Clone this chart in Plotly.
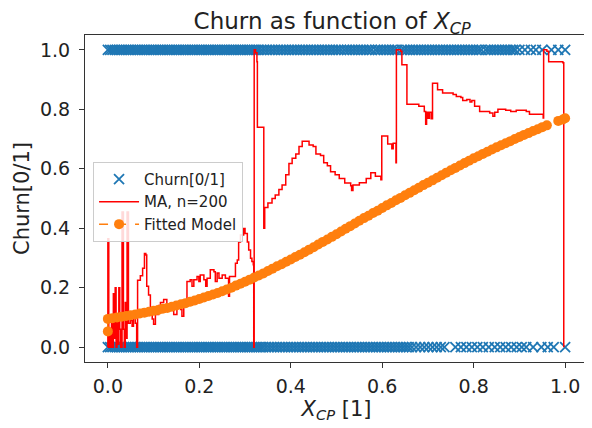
import plotly.graph_objects as go

# --- Data ---
churn_x_at_1 = [0.000,0.005,0.010,0.015,0.020,0.025,0.030,0.035,0.040,0.045,0.050,0.055,0.060,0.065,0.070,0.075,0.080,0.085,0.090,0.095,
                0.100,0.105,0.110,0.115,0.120,0.125,0.130,0.135,0.140,0.145,0.150,0.155,0.160,0.165,0.170,0.175,0.180,0.185,0.190,0.195,
                0.200,0.205,0.210,0.215,0.220,0.225,0.230,0.235,0.240,0.245,0.250,0.255,0.260,0.265,0.270,0.275,0.280,0.285,0.290,0.295,
                0.300,0.305,0.310,0.315,0.320,0.325,0.330,
                0.336,0.342,0.348,0.354,0.360,0.366,0.372,0.378,0.384,0.390,0.396,0.402,0.408,0.414,0.420,0.426,0.432,0.438,0.444,0.450,
                0.456,0.462,0.468,0.474,0.480,0.486,0.492,0.498,0.504,0.510,0.517,0.523,0.529,0.535,0.541,0.547,0.553,0.559,0.565,0.571,
                0.577,0.585,0.591,0.597,0.603,0.609,0.615,0.621,0.627,0.633,0.643,0.649,0.655,0.661,0.667,0.673,0.679,0.685,0.691,0.697,
                0.703,0.709,0.715,0.721,0.727,0.733,0.739,0.745,0.751,0.757,0.763,0.769,0.775,0.781,0.787,0.793,0.799,0.805,0.811,0.817,
                0.826,0.832,0.838,0.844,0.850,0.856,0.862,0.868,0.874,0.880,0.886,0.891,
                0.900,0.912,0.925,0.936,0.950,0.970,0.985,1.000]

churn_x_at_0 = [0.000,0.005,0.010,0.015,0.020,0.025,0.030,0.035,0.040,0.045,0.050,0.055,0.060,0.065,0.070,0.075,0.080,0.085,0.090,0.095,
                0.100,0.105,0.110,0.115,0.120,0.125,0.130,0.135,0.140,0.145,0.150,0.155,0.160,0.165,0.170,0.175,0.180,0.185,0.190,0.195,
                0.200,0.205,0.210,0.215,0.220,0.225,0.230,0.235,0.240,0.245,0.250,0.255,0.260,0.265,0.270,0.275,0.280,0.285,0.290,0.295,
                0.300,0.305,0.310,0.315,0.320,0.325,0.330,0.335,0.340,
                0.346,0.352,0.358,0.364,0.370,0.376,0.382,0.388,0.394,0.400,0.406,0.412,0.418,0.424,0.430,0.436,0.442,0.448,0.454,0.460,
                0.466,0.472,0.478,0.484,0.490,0.496,0.502,0.508,0.514,0.520,0.526,0.532,0.538,0.544,0.550,0.556,0.562,0.568,0.574,0.580,
                0.586,0.592,0.598,0.604,0.610,0.616,0.622,0.628,0.634,0.640,0.646,0.652,0.658,
                0.665,0.674,0.683,0.692,0.701,0.710,0.719,0.728,0.736,
                0.760,0.772,0.784,0.796,0.808,0.820,0.833,0.846,0.858,0.870,0.882,0.894,0.905,
                0.915,0.930,0.948,0.962,0.975,1.000]

ma_x = [0.000,0.000,0.002,0.004,0.006,0.008,0.010,0.012,0.014,0.016,0.018,0.020,0.022,0.024,0.026,0.028,0.031,0.034,0.036,0.038,
        0.040,0.042,0.045,0.049,0.053,0.056,0.060,0.063,0.065,0.071,0.076,0.080,0.083,0.085,0.089,0.093,0.097,0.100,0.104,0.107,
        0.111,0.115,0.122,0.129,0.137,0.144,0.151,0.159,0.162,0.166,0.173,0.180,0.184,0.188,0.195,0.199,0.202,0.210,0.214,0.217,
        0.224,0.232,0.235,0.239,0.243,0.250,0.257,0.264,0.266,0.275,0.279,0.283,0.286,0.290,0.297,0.300,0.305,0.308,0.312,0.315,
        0.318,0.319,0.320,0.323,0.326,0.327,0.340,0.341,0.343,0.350,0.359,0.366,0.374,0.381,0.389,0.396,0.403,0.411,0.418,0.425,
        0.433,0.440,0.449,0.455,0.465,0.472,0.480,0.487,0.497,0.506,0.518,0.531,0.533,0.536,0.550,0.565,0.575,0.585,0.597,0.599,
        0.608,0.612,0.619,0.621,0.624,0.629,0.630,0.631,0.640,0.643,0.652,0.654,0.674,0.680,0.692,0.695,0.697,0.700,0.703,0.707,
        0.710,0.718,0.721,0.729,0.732,0.755,0.762,0.772,0.776,0.785,0.792,0.796,0.802,0.813,0.835,0.842,0.846,0.853,0.870,0.881,
        0.890,0.893,0.915,0.922,0.952,0.953,0.960,0.964,0.995,0.997]
ma_y = [0.000,0.365,0.000,0.060,0.000,0.090,0.000,0.180,0.030,0.200,0.000,0.100,0.010,0.200,0.060,0.000,0.455,0.060,0.000,0.150,
        0.030,0.455,0.080,0.090,0.070,0.110,0.080,0.000,0.225,0.240,0.265,0.315,0.310,0.205,0.175,0.116,0.095,0.077,0.110,0.110,
        0.140,0.150,0.160,0.140,0.127,0.110,0.138,0.127,0.104,0.138,0.221,0.227,0.205,0.227,0.238,0.221,0.243,0.227,0.205,0.232,
        0.260,0.254,0.221,0.249,0.232,0.243,0.232,0.171,0.238,0.238,0.282,0.293,0.354,0.377,0.399,0.382,0.354,0.327,0.299,0.288,
        0.277,0.000,1.000,0.990,0.960,0.740,0.740,0.400,0.470,0.485,0.500,0.512,0.530,0.545,0.580,0.618,0.635,0.650,0.675,0.693,
        0.693,0.680,0.675,0.650,0.645,0.620,0.610,0.590,0.580,0.567,0.552,0.543,0.527,0.545,0.553,0.567,0.587,0.575,0.563,0.710,
        0.710,0.683,0.683,0.667,0.686,0.686,0.620,1.000,0.995,0.950,0.950,0.817,0.817,0.810,0.793,0.750,0.790,0.770,0.790,0.768,
        0.888,0.888,0.866,0.866,0.855,0.850,0.843,0.840,0.830,0.833,0.825,0.830,0.810,0.793,0.788,0.777,0.790,0.800,0.797,0.793,
        0.793,0.797,0.793,0.783,0.771,1.000,0.995,0.960,0.957,0.000]

fit_x = [0.00,0.00,0.01,0.02,0.03,0.04,0.05,0.06,0.07,0.08,0.09,0.10,0.11,0.12,0.13,0.14,0.15,0.16,0.17,0.18,0.19,
         0.20,0.21,0.22,0.23,0.24,0.25,0.26,0.27,0.28,0.29,0.30,0.31,0.32,0.33,0.34,0.35,0.36,0.37,0.38,0.39,
         0.40,0.41,0.42,0.43,0.44,0.45,0.46,0.47,0.48,0.49,0.50,0.51,0.52,0.53,0.54,0.55,0.56,0.57,0.58,0.59,
         0.60,0.61,0.62,0.63,0.64,0.65,0.66,0.67,0.68,0.69,0.70,0.71,0.72,0.73,0.74,0.75,0.76,0.77,0.78,0.79,
         0.80,0.81,0.82,0.83,0.84,0.85,0.86,0.87,0.88,0.89,0.90,0.91,0.92,0.93,0.94,0.95,0.96,0.985,0.995,1.00]
fit_y = [0.053,0.095,0.097,0.100,0.102,0.105,0.107,0.110,0.113,0.116,0.119,0.122,0.125,0.129,0.132,0.136,0.140,0.144,0.148,0.153,0.157,
         0.162,0.167,0.172,0.177,0.182,0.188,0.194,0.200,0.207,0.213,0.220,0.227,0.234,0.241,0.248,0.256,0.264,0.272,0.279,0.287,
         0.295,0.303,0.311,0.319,0.328,0.336,0.345,0.354,0.362,0.371,0.380,0.389,0.398,0.407,0.416,0.425,0.434,0.442,0.451,0.459,
         0.468,0.477,0.485,0.494,0.502,0.511,0.519,0.528,0.536,0.545,0.553,0.561,0.570,0.578,0.587,0.595,0.603,0.611,0.619,0.627,
         0.635,0.642,0.650,0.657,0.665,0.672,0.679,0.686,0.693,0.700,0.707,0.714,0.720,0.727,0.733,0.740,0.746,0.761,0.766,0.770]

x_ticks = [0.0, 0.2, 0.4, 0.6, 0.8, 1.0]
y_ticks = [0.0, 0.2, 0.4, 0.6, 0.8, 1.0]

FONT = "DejaVu Sans"
TXT = "#222222"

fig = go.Figure()
fig.add_trace(go.Scatter(
    x=churn_x_at_1 + churn_x_at_0,
    y=[1.0] * len(churn_x_at_1) + [0.0] * len(churn_x_at_0),
    mode="markers", name="Churn[0/1]",
    marker=dict(symbol="x-thin", size=10, color="#1f77b4", line=dict(color="#1f77b4", width=1.8)),
))
fig.add_trace(go.Scatter(
    x=ma_x, y=ma_y, mode="lines", name="MA, n=200",
    line=dict(color="#ff0000", width=1.5, shape="hv"),
))
fig.add_trace(go.Scatter(
    x=fit_x, y=fit_y, mode="lines+markers", name="Fitted Model",
    line=dict(color="#ff7f0e", width=1.5, dash="dash"),
    marker=dict(symbol="circle", size=10, color="#ff7f0e"),
))

axis_common = dict(
    showgrid=False, zeroline=False, showline=True, mirror=True,
    linecolor="#333333", linewidth=1,
    ticks="outside", ticklen=5, tickwidth=1, tickcolor="#333333",
    tickfont=dict(family=FONT, size=19, color=TXT),
    tickformat=".1f", automargin=False,
)

# page body has an 8px default margin, so the figure is 8px smaller than the window
fig.update_layout(
    width=584, height=420,
    margin=dict(l=77, r=4, t=27, b=66),
    paper_bgcolor="white", plot_bgcolor="white",
    font=dict(family=FONT, color=TXT),
    title=dict(text="Churn as function of <i>X</i><sub><i>CP</i></sub>",
               x=0.555, xanchor="center", y=0.968, yanchor="middle",
               font=dict(family=FONT, size=23, color=TXT)),
    xaxis=dict(axis_common, range=[-0.05, 1.05], tickvals=x_ticks, ticklabelstandoff=2,
               title=dict(text="<i>X</i><sub><i>CP</i></sub> [1]", font=dict(family=FONT, size=21, color=TXT), standoff=2)),
    yaxis=dict(axis_common, range=[-0.05, 1.05], tickvals=y_ticks, ticklabelstandoff=5,
               title=dict(text="Churn[0/1]", font=dict(family=FONT, size=21, color=TXT), standoff=4)),
    legend=dict(x=0.016, y=0.612, xanchor="left", yanchor="top",
                bgcolor="rgba(255,255,255,0.85)", bordercolor="#cccccc", borderwidth=1,
                font=dict(family=FONT, size=15, color=TXT), itemwidth=40, tracegroupgap=0),
    showlegend=True,
)

fig.write_html("out.html")
